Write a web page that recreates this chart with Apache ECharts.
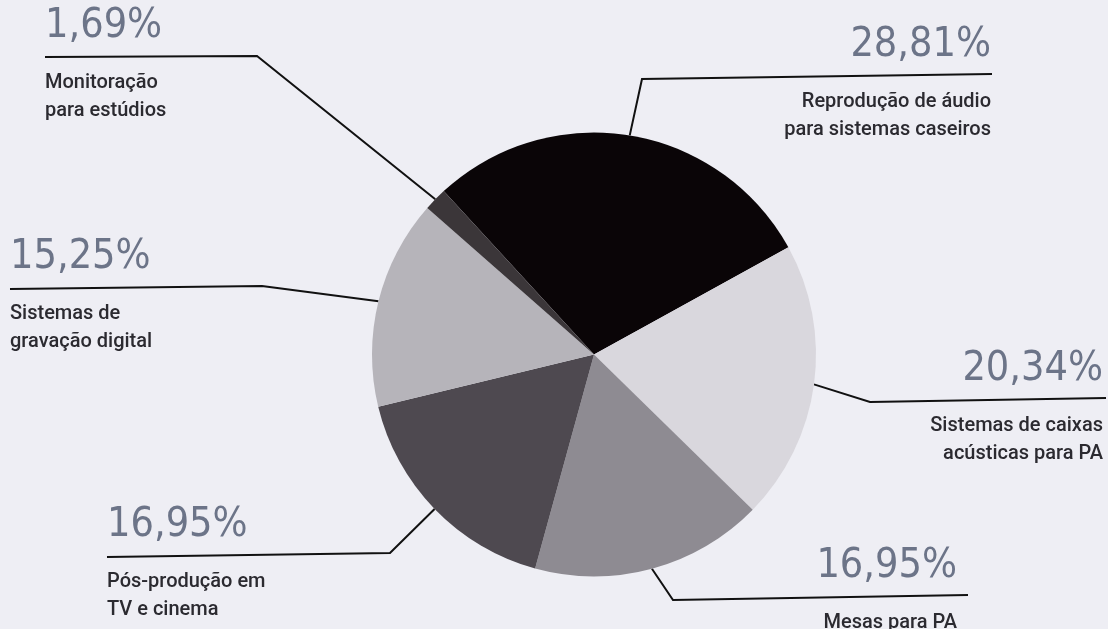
<!DOCTYPE html>
<html>
<head>
<meta charset="utf-8">
<script src="https://cdn.jsdelivr.net/npm/echarts@6/dist/echarts.min.js"></script>
<style>
html,body{margin:0;padding:0;background:#eeeef4;}
#chart{width:1108px;height:629px;}
</style>
</head>
<body>
<div id="chart"></div>
<script>
// Data (clockwise from top)
const categories = [
  'Reprodução de áudio\npara sistemas caseiros',
  'Sistemas de caixas\nacústicas para PA',
  'Mesas para PA',
  'Pós-produção em\nTV e cinema',
  'Sistemas de\ngravação digital',
  'Monitoração\npara estúdios'
];
const values = [28.81, 20.34, 16.95, 16.95, 15.25, 1.69];
const sliceColors = ['#0a0507', '#d9d7dd', '#8e8b92', '#4e4950', '#b6b4ba', '#3b3639'];

// Label placement (layout only)
const labelPlaces = [
  {x: 991, lineY: 76, align: 'right', bend: [642, 79], end: [992, 74]},
  {x: 1103, lineY: 400, align: 'right', bend: [870, 402], end: [1106, 398]},
  {x: 957, lineY: 597, align: 'right', bend: [673, 600], end: [968, 595]},
  {x: 107, lineY: 556, align: 'left', bend: [390, 553], end: [107, 557]},
  {x: 10, lineY: 288, align: 'left', bend: [262, 286], end: [10, 289]},
  {x: 45, lineY: 57, align: 'left', bend: [257, 56], end: [45, 57]}
];

const chart = echarts.init(document.getElementById('chart'));
const pctFont = '"DejaVu Sans Condensed", Roboto, sans-serif';
chart.setOption({
  backgroundColor: '#eeeef4',
  animation: false,
  series: [{
    type: 'pie',
    center: [594, 354.5],
    radius: 222,
    startAngle: 132.6,
    clockwise: true,
    avoidLabelOverlap: false,
    emphasis: {disabled: true},
    data: categories.map((n, i) => ({name: n, value: values[i], itemStyle: {color: sliceColors[i]}})),
    label: {
      show: true,
      position: 'outside',
      formatter: p => '{p|' + p.value.toFixed(2).replace('.', ',') + '%}\n{g| }\n{d|' + p.name + '}',
      rich: {
        p: {fontFamily: pctFont, fontSize: 41, lineHeight: 44, color: '#6c7488'},
        g: {fontSize: 6, lineHeight: 21},
        d: {fontFamily: 'Roboto, sans-serif', fontSize: 20, fontWeight: 500, lineHeight: 28, color: '#2b2a30'}
      }
    },
    labelLine: {show: true, smooth: false, lineStyle: {color: '#111', width: 2}},
    labelLayout: function (params) {
      const L = labelPlaces[params.dataIndex];
      const start = params.labelLinePoints ? params.labelLinePoints[0] : L.bend;
      return {
        x: L.x,
        y: L.lineY - 53,
        align: L.align,
        verticalAlign: 'top',
        labelLinePoints: [start, L.bend, L.end]
      };
    }
  }]
});
</script>
</body>
</html>
